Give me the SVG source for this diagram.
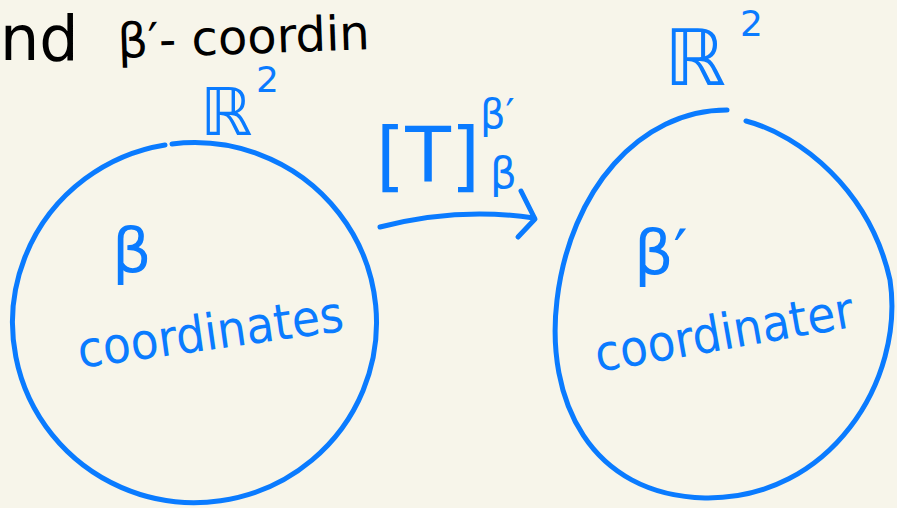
<svg xmlns="http://www.w3.org/2000/svg" width="897" height="508" viewBox="0 0 897 508">
<style>
.ink{fill:none;stroke:#0A7BFF;stroke-width:5;stroke-linecap:round;stroke-linejoin:round}
.bt{fill:#0A7BFF;font-family:"DejaVu Sans","Liberation Sans",sans-serif}
.kt{fill:#000;font-family:"DejaVu Sans","Liberation Sans",sans-serif}
</style>
<rect width="897" height="508" fill="#F7F5EA"/>
<g id="header">
<text class="kt" x="0" y="60" font-size="62">nd</text>
<text class="kt" x="118" y="58" font-size="48" transform="rotate(-2 118 58)">β′- coordin</text>
</g>
<g id="node-left">
<path class="ink" d="M172 144 A182 180 0 1 1 165 145"/>
<text class="bt" x="200" y="135" font-size="66">ℝ</text>
<text class="bt" x="256" y="92" font-size="36">2</text>
<text class="bt" x="112" y="272" font-size="62">β</text>
<text class="bt" x="80" y="368" font-size="50" textLength="268" lengthAdjust="spacingAndGlyphs" transform="rotate(-8 80 368)">coordinates</text>
</g>
<g id="node-right">
<path class="ink" d="M746 121 C800 135 870 190 890 280 C905 380 830 500 705 498 C590 495 545 400 557 300 C570 190 640 110 727 110"/>
<text class="bt" x="664" y="85" font-size="78">ℝ</text>
<text class="bt" x="740" y="36" font-size="36">2</text>
<text class="bt" x="634" y="274" font-size="62">β′</text>
<text class="bt" x="598" y="372" font-size="50" textLength="262" lengthAdjust="spacingAndGlyphs" transform="rotate(-10 598 372)">coordinater</text>
</g>
<g id="connectors">
<path class="ink" d="M380 227 C430 214 480 210 534 218"/>
<path class="ink" d="M521 191 L535 219 L518 237"/>
<text class="bt" x="376" y="182" font-size="76" textLength="104" lengthAdjust="spacingAndGlyphs">[T]</text>
<text class="bt" x="480" y="128" font-size="40">β′</text>
<text class="bt" x="490" y="188" font-size="42">β</text>
</g>
</svg>
